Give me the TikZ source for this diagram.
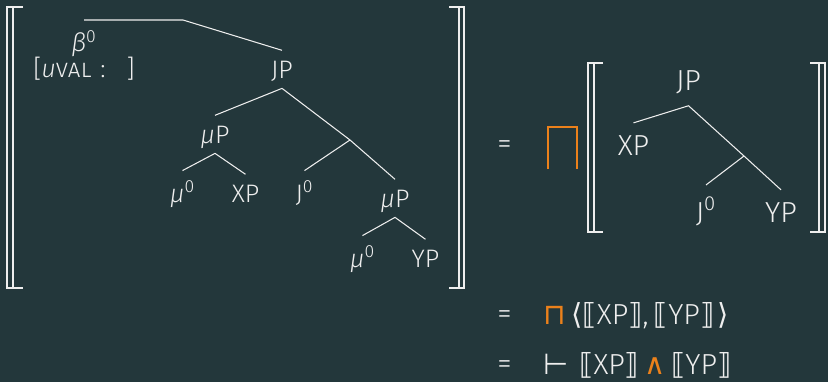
\documentclass[tikz,border=0pt]{standalone}
\usepackage{fontspec}
\setmainfont{Fira Sans}[UprightFont=* Light, ItalicFont=* Light Italic]
\newfontfamily\dvsymb{DejaVu Sans}
\usepackage{tikz}
\usetikzlibrary{positioning}
\definecolor{mDarkTeal}{HTML}{23373B}
\definecolor{mLightBrown}{HTML}{EB811B}
\definecolor{mFg}{HTML}{EEEEEE}
\tikzset{
  lcat/.style={text=mFg, font=\fontsize{14.4}{14.7}\selectfont, inner xsep=1pt, inner ysep=5.7pt, text depth=0pt, anchor=base},
  rcat/.style={text=mFg, font=\fontsize{16.5}{19}\selectfont, inner xsep=1pt, inner ysep=6.8pt, anchor=base},
  branch/.style={draw=mFg, line width=0.6pt},
  dbrack/.style={draw=mFg, line width=0.9pt},
  eqn/.style={text=mFg, font=\fontsize{16.5}{19}\selectfont, inner sep=0pt}
}

\begin{document}
\begin{tikzpicture}[x=0.02cm, y=-0.02cm]
  \fill[mDarkTeal] (0,0) rectangle (828,382);
  \useasboundingbox (0,0) rectangle (828,382);

  % Left tree
  \coordinate (lroot) at (183,20);
  \node[lcat, anchor=north, align=center] (beta) at (84,20)
    {{\itshape β}\textsuperscript{0}\\{[}{\itshape u}\textsc{val}\hspace{5pt}:\hspace{12pt}{]}};
  \node[lcat] (ljp) at (282,78) {JP};
  \node[lcat] (lmup) at (215,143) {{\itshape μ}P};
  \coordinate (ljbar) at (350,140);
  \node[lcat] (lmu0) at (182.5,202) {{\itshape μ}\textsuperscript{0}};
  \node[lcat] (lxp) at (245.5,202) {XP};
  \node[lcat] (lj0) at (304.5,202) {J\textsuperscript{0}};
  \node[lcat] (lmup2) at (395,207) {{\itshape μ}P};
  \node[lcat] (lmu02) at (362.5,267) {{\itshape μ}\textsuperscript{0}};
  \node[lcat] (lyp) at (425.5,267) {YP};

  \draw[branch] (beta.north) -- (lroot) -- (ljp.north);
  \draw[branch] (lmup.north) -- (ljp.south) -- (ljbar) -- (lmup2.north);
  \draw[branch] (ljbar) -- (lj0.north);
  \draw[branch] (lmu0.north) -- (lmup.south) -- (lxp.north);
  \draw[branch] (lmu02.north) -- (lmup2.south) -- (lyp.north);

  % Big brackets round the left tree
  \draw[dbrack] (23,7) -- (7,7) -- (7,288) -- (23,288);
  \draw[dbrack] (13,7) -- (13,288);
  \draw[dbrack] (449,7) -- (464,7) -- (464,288) -- (449,288);
  \draw[dbrack] (459,7) -- (459,288);

  % Right side
  \node[eqn] (eqa) at (504.5,147.5) {=};
  \draw[mLightBrown, line width=1.1pt] (548,169) -- (548,127) -- (577,127) -- (577,169);

  \draw[dbrack] (603,63) -- (588,63) -- (588,232) -- (603,232);
  \draw[dbrack] (594,63) -- (594,232);
  \draw[dbrack] (810,63) -- (825,63) -- (825,232) -- (810,232);
  \draw[dbrack] (819,63) -- (819,232);

  \node[rcat] (rjp) at (688.5,90) {JP};
  \node[rcat] (rxp) at (633.5,155) {XP};
  \coordinate (rjbar) at (744,156);
  \node[rcat] (rj0) at (706,222) {J\textsuperscript{0}};
  \node[rcat] (ryp) at (781,222) {YP};

  \draw[branch] (rxp.north) -- (rjp.south) -- (rjbar) -- (ryp.north);
  \draw[branch] (rjbar) -- (rj0.north);

  % Equations below
  \node[eqn] (eqb) at (504.5,317) {=};
  \node[eqn, anchor=base west] (meet) at (543,324)
    {{\color{mLightBrown}\dvsymb ⊓}\hspace{3pt}{\dvsymb ⟨⟦}XP{\dvsymb ⟧},\hspace{3pt}{\dvsymb ⟦}YP{\dvsymb ⟧}\hspace{2pt}{\dvsymb ⟩}};
  \node[eqn] (eqc) at (504.5,367) {=};
  \node[eqn, anchor=base west] (conj) at (543,374)
    {{\dvsymb ⊢}\hspace{6pt}{\dvsymb ⟦}XP{\dvsymb ⟧}\hspace{3pt}{\color{mLightBrown}\dvsymb ∧}\hspace{3pt}{\dvsymb ⟦}YP{\dvsymb ⟧}};
\end{tikzpicture}
\end{document}
